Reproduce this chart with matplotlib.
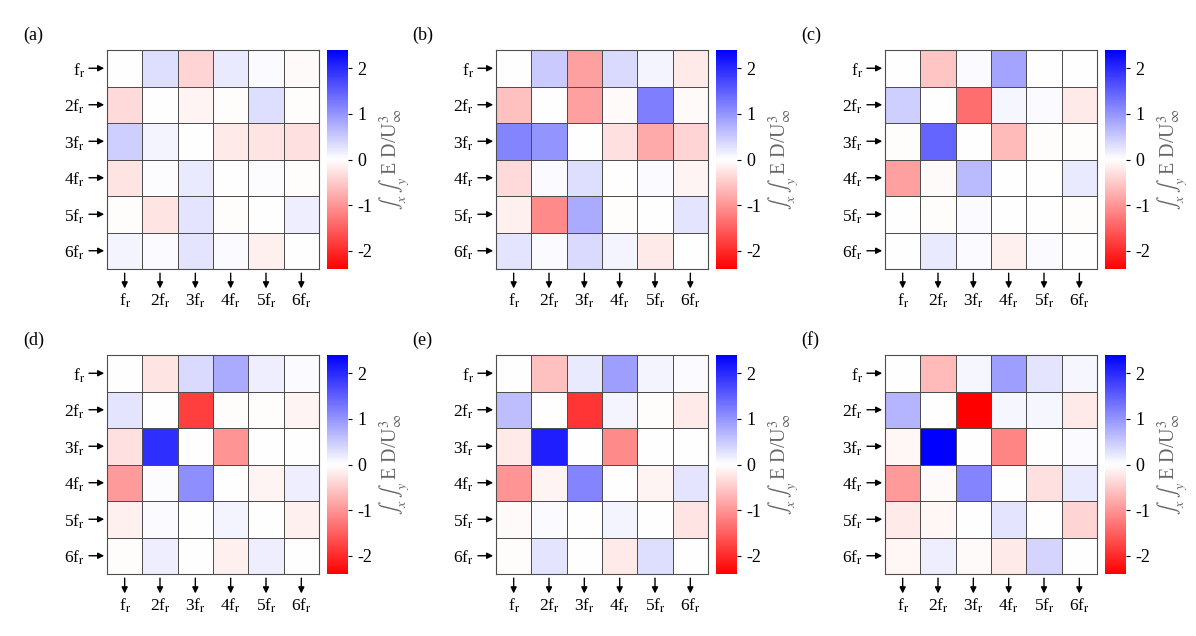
import numpy as np
import matplotlib
matplotlib.use("Agg")
from matplotlib import pyplot as plt

plt.rcParams["font.family"] = ["Liberation Serif", "DejaVu Serif"]
plt.rcParams["mathtext.fontset"] = "stix"
plt.rcParams["axes.unicode_minus"] = False

harmonics = ["f$_\\mathrm{r}$", "2f$_\\mathrm{r}$", "3f$_\\mathrm{r}$",
             "4f$_\\mathrm{r}$", "5f$_\\mathrm{r}$", "6f$_\\mathrm{r}$"]
panel_names = ["(a)", "(b)", "(c)", "(d)", "(e)", "(f)"]

# rows: source harmonic (top to bottom), columns: target harmonic
transfer_a = [
    [0.00, 0.30, -0.40, 0.20, 0.05, -0.05],
    [-0.35, 0.00, -0.10, -0.03, 0.30, -0.02],
    [0.45, 0.10, 0.00, -0.20, -0.25, -0.30],
    [-0.25, 0.03, 0.20, 0.00, 0.03, -0.02],
    [-0.03, -0.25, 0.25, -0.03, 0.00, 0.15],
    [0.10, 0.05, 0.25, 0.05, -0.15, 0.00],
]
transfer_b = [
    [0.00, 0.50, -0.90, 0.35, 0.10, -0.20],
    [-0.60, 0.00, -0.90, -0.05, 1.20, -0.05],
    [1.15, 1.00, 0.00, -0.30, -0.80, -0.40],
    [-0.35, 0.05, 0.30, 0.00, 0.05, -0.10],
    [-0.15, -1.10, 0.80, -0.03, 0.00, 0.25],
    [0.25, 0.05, 0.35, 0.10, -0.20, 0.00],
]
transfer_c = [
    [0.00, -0.55, 0.05, 0.85, 0.00, 0.00],
    [0.45, 0.00, -1.35, 0.08, 0.05, -0.20],
    [-0.03, 1.45, 0.00, -0.65, -0.03, -0.02],
    [-0.90, -0.05, 0.65, 0.00, 0.00, 0.20],
    [0.00, -0.02, 0.05, 0.00, 0.00, -0.02],
    [0.00, 0.20, 0.05, -0.15, 0.05, 0.00],
]
transfer_d = [
    [0.00, -0.25, 0.35, 0.80, 0.15, 0.05],
    [0.25, 0.00, -1.80, -0.03, -0.03, -0.10],
    [-0.30, 1.95, 0.00, -1.00, 0.00, 0.00],
    [-0.95, 0.03, 1.05, 0.00, -0.10, 0.15],
    [-0.15, 0.05, 0.00, 0.10, 0.00, -0.15],
    [-0.03, 0.15, 0.00, -0.15, 0.15, 0.00],
]
transfer_e = [
    [0.00, -0.60, 0.20, 0.90, 0.10, 0.05],
    [0.60, 0.00, -1.90, 0.10, -0.03, -0.20],
    [-0.20, 2.10, 0.00, -1.10, 0.00, 0.00],
    [-1.00, -0.10, 1.15, 0.00, -0.10, 0.25],
    [-0.05, 0.05, 0.00, 0.10, 0.00, -0.25],
    [-0.03, 0.25, 0.00, -0.20, 0.30, 0.00],
]
transfer_f = [
    [0.00, -0.65, 0.08, 0.90, 0.25, 0.08],
    [0.70, 0.00, -2.40, 0.08, 0.08, -0.20],
    [-0.08, 2.40, 0.00, -1.15, 0.00, 0.05],
    [-0.95, -0.05, 1.15, 0.00, -0.30, 0.20],
    [-0.20, -0.08, 0.00, 0.25, 0.00, -0.40],
    [-0.08, 0.15, -0.05, -0.20, 0.40, 0.00],
]
panels = [transfer_a, transfer_b, transfer_c, transfer_d, transfer_e, transfer_f]

cbar_ticks = [-2, -1, 0, 1, 2]
cbar_label = r"$\int_x\;\int_y\;$E D/U$^3_\infty$"

W, H = 1196, 636
fig = plt.figure(figsize=(W / 100, H / 100), dpi=100)

# pixel layout of the heatmaps (left, top) and sizes
lefts = [107, 496, 885]
tops = [50, 355]
size_w, size_h = 212, 219
vmax = 2.4


def px_axes(left, top, w, h):
    return fig.add_axes([left / W, 1 - (top + h) / H, w / W, h / H])


right_arrow = dict(arrowstyle="-|>", color="black", lw=1,
                   mutation_scale=9, shrinkA=0, shrinkB=2)
down_arrow = dict(arrowstyle="<|-", color="black", lw=1,
                  mutation_scale=9, shrinkA=0, shrinkB=3)

for k, data in enumerate(panels):
    r, c = divmod(k, 3)
    left, top = lefts[c], tops[r]
    ax = px_axes(left, top, size_w, size_h)
    mesh = ax.pcolormesh(np.array(data), cmap="bwr_r", vmin=-vmax, vmax=vmax,
                         edgecolors="0.3", linewidth=0.6)
    ax.set_xlim(0, 6)
    ax.set_ylim(6, 0)
    for s in ax.spines.values():
        s.set_color("0.3")
        s.set_linewidth(0.8)
    pos = np.arange(6) + 0.5
    ax.set_xticks(pos)
    ax.set_xticklabels(harmonics, fontsize=12.5)
    ax.set_yticks(pos)
    ax.set_yticklabels(harmonics, fontsize=12.5)
    ax.tick_params(length=0)
    ax.tick_params(axis="y", pad=16)
    ax.tick_params(axis="x", pad=16)

    # arrows: rows point into the matrix, columns point out of it
    for p in pos:
        ax.annotate("", xy=(0, p), xytext=(-13, 0),
                    xycoords=ax.get_yaxis_transform(), textcoords="offset points",
                    annotation_clip=False, arrowprops=right_arrow)
        ax.annotate("", xy=(p, 0), xytext=(0, -14),
                    xycoords=ax.get_xaxis_transform(), textcoords="offset points",
                    annotation_clip=False, arrowprops=down_arrow)

    cax = px_axes(left + 220, top, 21, size_h)
    cb = fig.colorbar(mesh, cax=cax, ticks=cbar_ticks)
    cb.outline.set_visible(False)
    cax.tick_params(labelsize=13, length=3, width=0.8)
    cax.set_ylabel(cbar_label, fontsize=14.5, color="0.4", labelpad=4)

    fig.text((left - 84) / W, 1 - (top - 15) / H, panel_names[k],
             fontsize=13, ha="left", va="center")

fig.savefig("out.png", dpi=100)
